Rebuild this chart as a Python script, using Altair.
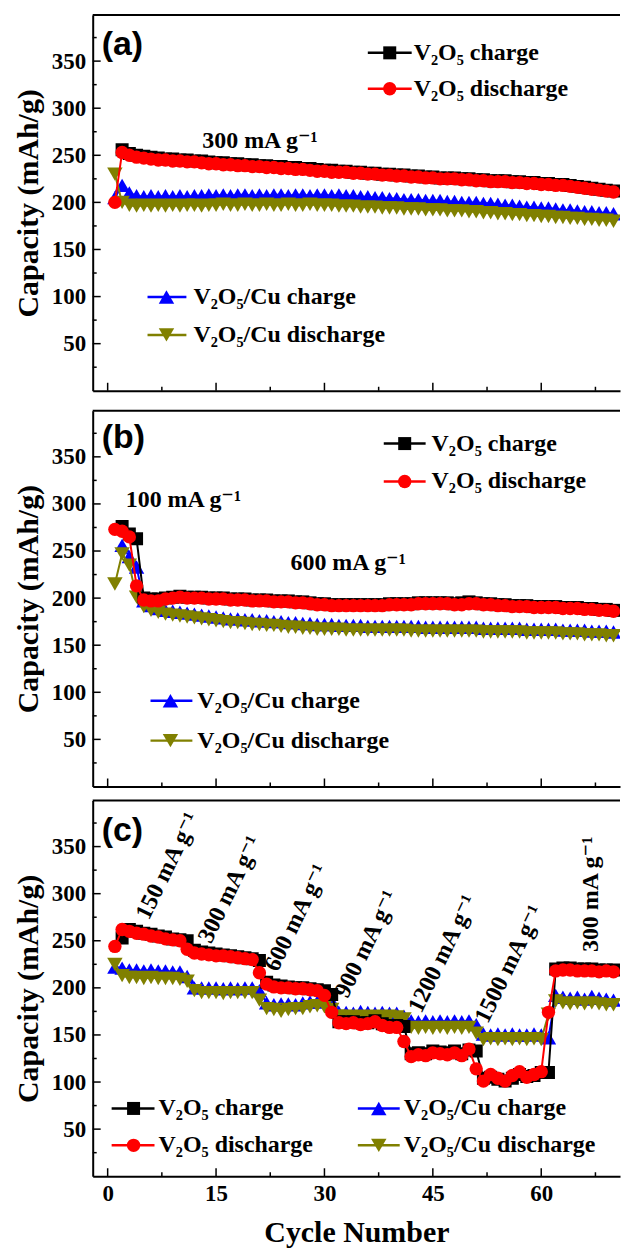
import altair as alt
import pandas as pd

cycles = list(range(1, 71))

# ---------------- Panel (a): 300 mA g-1 ----------------
black_a = [None, 256, 252, 250, 249, 248, 247, 246, 246, 245,
           245, 244, 244, 243, 242, 242, 241, 241, 240, 240,
           239, 239, 238, 238, 237, 237, 236, 236, 235, 234,
           234, 233, 233, 232, 232, 231, 231, 230, 230, 229,
           229, 228, 228, 227, 227, 226, 226, 226, 225, 225,
           224, 224, 223, 223, 223, 222, 222, 221, 221, 220,
           220, 219, 219, 218, 217, 216, 215, 214, 213, 212]
red_a = [200, 253, 250, 248, 247, 246, 245, 245, 244, 244,
         243, 243, 242, 241, 241, 240, 240, 239, 239, 238,
         238, 237, 237, 236, 236, 235, 235, 234, 233, 233,
         232, 232, 232, 231, 231, 230, 230, 229, 229, 228,
         228, 227, 227, 226, 226, 225, 225, 225, 224, 224,
         223, 223, 222, 222, 222, 221, 221, 220, 220, 219,
         219, 218, 218, 217, 216, 215, 214, 213, 212, 211]
blue_a = [205, 218, 210, 207, 206, 207, 206, 207, 206, 207,
          206, 207, 207, 208, 207, 208, 207, 208, 208, 207,
          208, 207, 208, 208, 207, 208, 208, 207, 208, 208,
          207, 208, 207, 207, 206, 206, 205, 205, 204, 204,
          203, 203, 203, 202, 202, 202, 201, 201, 200, 200,
          200, 199, 199, 198, 197, 197, 196, 195, 195, 194,
          194, 193, 192, 192, 191, 190, 190, 189, 189, 188]
olive_a = [230, 200, 197, 196, 197, 196, 197, 196, 197, 196,
           197, 197, 196, 197, 197, 198, 197, 197, 198, 197,
           197, 198, 197, 197, 198, 197, 197, 198, 197, 197,
           197, 196, 196, 196, 195, 195, 195, 194, 194, 194,
           193, 193, 193, 192, 192, 192, 191, 191, 191, 190,
           190, 189, 189, 188, 188, 187, 187, 186, 186, 185,
           185, 184, 184, 183, 183, 182, 182, 181, 181, 180]

# ---------------- Panel (b): 100 then 600 mA g-1 ----------------
black_b = [None, 276, 268, 263, 200, 199, 199, 200, 201, 202,
           201, 201, 201, 200, 200, 200, 199, 199, 199, 198,
           198, 198, 197, 197, 197, 196, 196, 195, 194, 194,
           193, 193, 193, 193, 193, 193, 193, 193, 194, 194,
           194, 194, 195, 195, 195, 195, 195, 194, 195, 196,
           195, 194, 194, 193, 193, 192, 192, 192, 191, 191,
           191, 191, 190, 190, 190, 189, 189, 188, 188, 187]
red_b = [273, 271, 265, 213, 198, 197, 197, 199, 200, 201,
         200, 200, 200, 199, 199, 199, 198, 198, 198, 197,
         197, 197, 196, 196, 196, 195, 195, 194, 193, 193,
         192, 192, 192, 192, 192, 192, 192, 192, 193, 193,
         193, 193, 194, 194, 194, 194, 194, 193, 193, 194,
         194, 193, 193, 192, 192, 191, 191, 191, 190, 190,
         190, 190, 189, 189, 189, 188, 188, 187, 187, 186]
blue_b = [None, 256, 244, 233, 197, 192, 189, 187, 186, 185,
          184, 183, 182, 181, 180, 179, 178, 178, 177, 177,
          176, 176, 175, 175, 174, 174, 173, 173, 172, 172,
          172, 171, 171, 171, 171, 170, 170, 170, 170, 170,
          170, 170, 170, 169, 169, 169, 169, 169, 169, 169,
          169, 168, 168, 168, 168, 168, 168, 167, 167, 167,
          167, 167, 166, 166, 166, 166, 165, 165, 165, 164]
olive_b = [215, 247, 235, 201, 191, 187, 185, 183, 182, 181,
           180, 179, 178, 177, 176, 175, 174, 174, 173, 172,
           172, 171, 171, 170, 169, 169, 168, 168, 167, 167,
           167, 167, 166, 166, 166, 166, 166, 166, 166, 166,
           166, 165, 165, 165, 165, 165, 165, 165, 165, 165,
           165, 164, 164, 164, 164, 164, 164, 163, 163, 163,
           163, 163, 162, 162, 162, 161, 161, 161, 160, 160]

# ---------------- Panel (c): rate capability ----------------
black_c = [None, 253, 262, 260, 258, 257, 255, 254, 252, 251,
           250, 240, 238, 237, 236, 235, 234, 233, 232, 231,
           229, 206, 203, 202, 201, 200, 200, 199, 198, 197,
           193, 164, 164, 164, 163, 163, 165, 162, 160, 160,
           159, 130, 131, 130, 133, 132, 131, 133, 130, 134,
           133, 104, 105, 103, 101, 104, 108, 106, 107, 110,
           110, 220, 221, 221, 220, 220, 220, 219, 219, 219]
red_c = [244, 262, 260, 258, 257, 255, 254, 252, 251, 250,
         241, 237, 236, 235, 234, 234, 233, 232, 231, 230,
         216, 204, 201, 200, 200, 199, 199, 198, 197, 192,
         174, 163, 162, 163, 161, 162, 164, 160, 158, 158,
         143, 127, 129, 128, 131, 130, 129, 131, 128, 135,
         114, 101, 108, 104, 101, 107, 111, 105, 108, 111,
         174, 218, 219, 219, 218, 218, 218, 217, 218, 217]
blue_c = [222, 221, 219, 219, 218, 219, 218, 218, 217, 217,
          212, 200, 200, 200, 200, 199, 200, 199, 200, 200,
          197, 184, 182, 183, 183, 182, 184, 185, 185, 186,
          186, 174, 174, 173, 175, 174, 173, 174, 173, 173,
          170, 165, 164, 165, 164, 165, 164, 165, 164, 165,
          161, 151, 150, 151, 150, 151, 150, 150, 151, 150,
          147, 192, 190, 189, 190, 188, 191, 189, 188, 187]
olive_c = [225, 213, 211, 211, 210, 211, 210, 210, 210, 209,
           207, 197, 195, 195, 195, 194, 195, 195, 195, 195,
           187, 178, 177, 175, 177, 178, 178, 180, 181, 180,
           177, 170, 170, 169, 170, 169, 170, 169, 170, 169,
           167, 158, 157, 158, 157, 158, 157, 158, 157, 158,
           152, 145, 146, 145, 146, 145, 146, 145, 146, 145,
           172, 186, 184, 183, 184, 183, 184, 183, 182, 182]

SERIES = ["V₂O₅ charge", "V₂O₅ discharge", "V₂O₅/Cu charge", "V₂O₅/Cu discharge"]
COLORS = ["#000000", "#FF0000", "#0000FF", "#808000"]
SHAPES = ["square", "circle", "triangle-up", "triangle-down"]
SIZES = [170, 180, 240, 240]
DRAW_ORDER = [2, 3, 0, 1]

x_major = [0, 15, 30, 45, 60]
x_minor = [7.5, 22.5, 37.5, 52.5, 67.5]
y_major = [50, 100, 150, 200, 250, 300, 350]
y_minor = [25, 75, 125, 175, 225, 275, 325, 375]

W, H = 529, 377
X_DOMAIN = [-2.07, 70.9]
Y_DOMAIN = [0, 399]
SERIF = "Times New Roman, Liberation Serif, Tinos, DejaVu Serif, serif"
SANS = "Arial, Liberation Sans, Helvetica, sans-serif"

xscale = alt.Scale(domain=X_DOMAIN, nice=False, zero=False)
yscale = alt.Scale(domain=Y_DOMAIN, nice=False, zero=False)

ONE = pd.DataFrame({"k": [0]})


def make_df(vals_list):
    rows = []
    for name, vals in zip(SERIES, vals_list):
        for c, v in zip(cycles, vals):
            if v is not None:
                rows.append({"cycle": c, "series": name, "cap": v})
    return pd.DataFrame(rows)


def x_axis(show):
    if show:
        return alt.Axis(values=x_major, ticks=False, grid=False, domainWidth=2,
                        domainColor="black", labelFont=SERIF, labelFontSize=23,
                        labelFontWeight="bold", labelColor="black", labelPadding=6,
                        title="Cycle Number", titleFont=SERIF, titleFontSize=30,
                        titleFontWeight="bold", titleColor="black", titlePadding=12)
    return alt.Axis(values=x_major, ticks=False, labels=False, grid=False,
                    domainWidth=2, domainColor="black", title=None)


Y_AXIS = alt.Axis(values=y_major, ticks=False, grid=False, domainWidth=2,
                  domainColor="black", labelFont=SERIF, labelFontSize=23,
                  labelFontWeight="bold", labelColor="black", labelPadding=7,
                  title="Capacity (mAh/g)", titleFont=SERIF, titleFontSize=30,
                  titleFontWeight="bold", titleColor="black", titlePadding=8)


def legend_entry(x0, x1, xm, xt, y, idx):
    layers = [
        alt.Chart(ONE).mark_rule(color=COLORS[idx], strokeWidth=2.5).encode(
            x=alt.value(x0), x2=alt.value(x1), y=alt.value(y)),
        alt.Chart(ONE).mark_point(shape=SHAPES[idx], filled=True, opacity=1,
                                  size=SIZES[idx], color=COLORS[idx]).encode(
            x=alt.value(xm), y=alt.value(y)),
        alt.Chart(ONE).mark_text(text=SERIES[idx], align="left", baseline="middle",
                                 font=SERIF, fontSize=24, fontWeight="bold",
                                 color="black").encode(
            x=alt.value(xt), y=alt.value(y)),
    ]
    return layers


def panel(vals_list, letter, letter_y, legends, notes, show_x):
    df = make_df(vals_list)
    xax = x_axis(show_x)
    X = alt.X("cycle:Q", scale=xscale, axis=xax)
    Yc = alt.Y("cap:Q", scale=yscale, axis=Y_AXIS)
    layers = []
    for i in DRAW_ORDER:
        base = alt.Chart(df).transform_filter(alt.datum.series == SERIES[i])
        layers.append(base.mark_line(color=COLORS[i], strokeWidth=2, clip=True)
                      .encode(x=X, y=Yc))
        layers.append(base.mark_point(shape=SHAPES[i], filled=True, opacity=1,
                                      size=SIZES[i], color=COLORS[i], clip=True)
                      .encode(x=X, y=Yc))
    # inward ticks
    ym = pd.DataFrame({"cap": y_major})
    yn = pd.DataFrame({"cap": y_minor})
    xm = pd.DataFrame({"cycle": x_major})
    xn = pd.DataFrame({"cycle": x_minor})
    layers.append(alt.Chart(ym).mark_rule(color="black", strokeWidth=1.5).encode(
        y=Yc, x=alt.value(0), x2=alt.value(8)))
    layers.append(alt.Chart(yn).mark_rule(color="black", strokeWidth=1.5).encode(
        y=Yc, x=alt.value(0), x2=alt.value(4)))
    layers.append(alt.Chart(xm).mark_rule(color="black", strokeWidth=1.5).encode(
        x=X, y=alt.value(H), y2=alt.value(H - 8)))
    layers.append(alt.Chart(xn).mark_rule(color="black", strokeWidth=1.5).encode(
        x=X, y=alt.value(H), y2=alt.value(H - 4)))
    # top frame line
    layers.append(alt.Chart(ONE).mark_rule(color="black", strokeWidth=2).encode(
        x=alt.value(0), x2=alt.value(W), y=alt.value(0)))
    # panel letter
    layers.append(alt.Chart(ONE).mark_text(text=letter, align="left", baseline="middle",
                                           font=SANS, fontSize=34, fontWeight="bold",
                                           color="black").encode(
        x=alt.value(9), y=alt.value(letter_y)))
    for lg in legends:
        layers.extend(legend_entry(*lg))
    for angle, ndf in notes:
        layers.append(alt.Chart(ndf).mark_text(align="left", baseline="alphabetic" if angle else "middle",
                                               angle=angle, font=SERIF, fontSize=24,
                                               fontWeight="bold", color="black").encode(
            x=X, y=Yc, text="label:N"))
    return alt.layer(*layers).properties(width=W, height=H)


# annotations (label, cycle, capacity)
notes_a = pd.DataFrame({"label": ["300 mA g⁻¹"], "cycle": [13.1], "cap": [265]})
notes_b = pd.DataFrame({"label": ["100 mA g⁻¹", "600 mA g⁻¹"],
                        "cycle": [2.5, 25.3], "cap": [304, 237]})
rot_labels = ["150 mA g⁻¹", "300 mA g⁻¹", "600 mA g⁻¹", "900 mA g⁻¹",
              "1200 mA g⁻¹", "1500 mA g⁻¹"]
rot_cycles = [5.7, 14.3, 23.5, 33.2, 43.4, 52.6]
rot_caps = [271, 246, 216, 188, 172, 161]
notes_c = pd.DataFrame({"label": rot_labels, "cycle": rot_cycles, "cap": rot_caps})
notes_c2 = pd.DataFrame({"label": ["300 mA g⁻¹"], "cycle": [67.9], "cap": [238]})

chart_a = panel([black_a, red_a, blue_a, olive_a], "(a)", 30,
                [(276, 320, 298, 322, 38, 0), (276, 320, 298, 322, 74, 1),
                 (55, 94, 74, 101, 283, 2), (55, 94, 74, 101, 321, 3)],
                [(0, notes_a)], False)
chart_b = panel([black_b, red_b, blue_b, olive_b], "(b)", 27,
                [(292, 334, 313, 340, 33, 0), (292, 334, 313, 340, 71, 1),
                 (58, 100, 78, 105, 291, 2), (58, 100, 78, 105, 331, 3)],
                [(0, notes_b)], False)
chart_c = panel([black_c, red_c, blue_c, olive_c], "(c)", 31,
                [(19, 62, 41, 66, 309, 0), (19, 62, 41, 66, 346, 1),
                 (266, 308, 287, 312, 309, 2), (266, 308, 287, 312, 346, 3)],
                [(296, notes_c), (270, notes_c2)], True)

chart = alt.vconcat(alt.vconcat(chart_a, chart_b, spacing=18), chart_c, spacing=12).properties(
    padding={"left": 13, "top": 12, "right": 0, "bottom": 0},
    background="white",
).configure_view(stroke=None)

chart.save("out.html", embed_options={"renderer": "svg", "actions": False})
